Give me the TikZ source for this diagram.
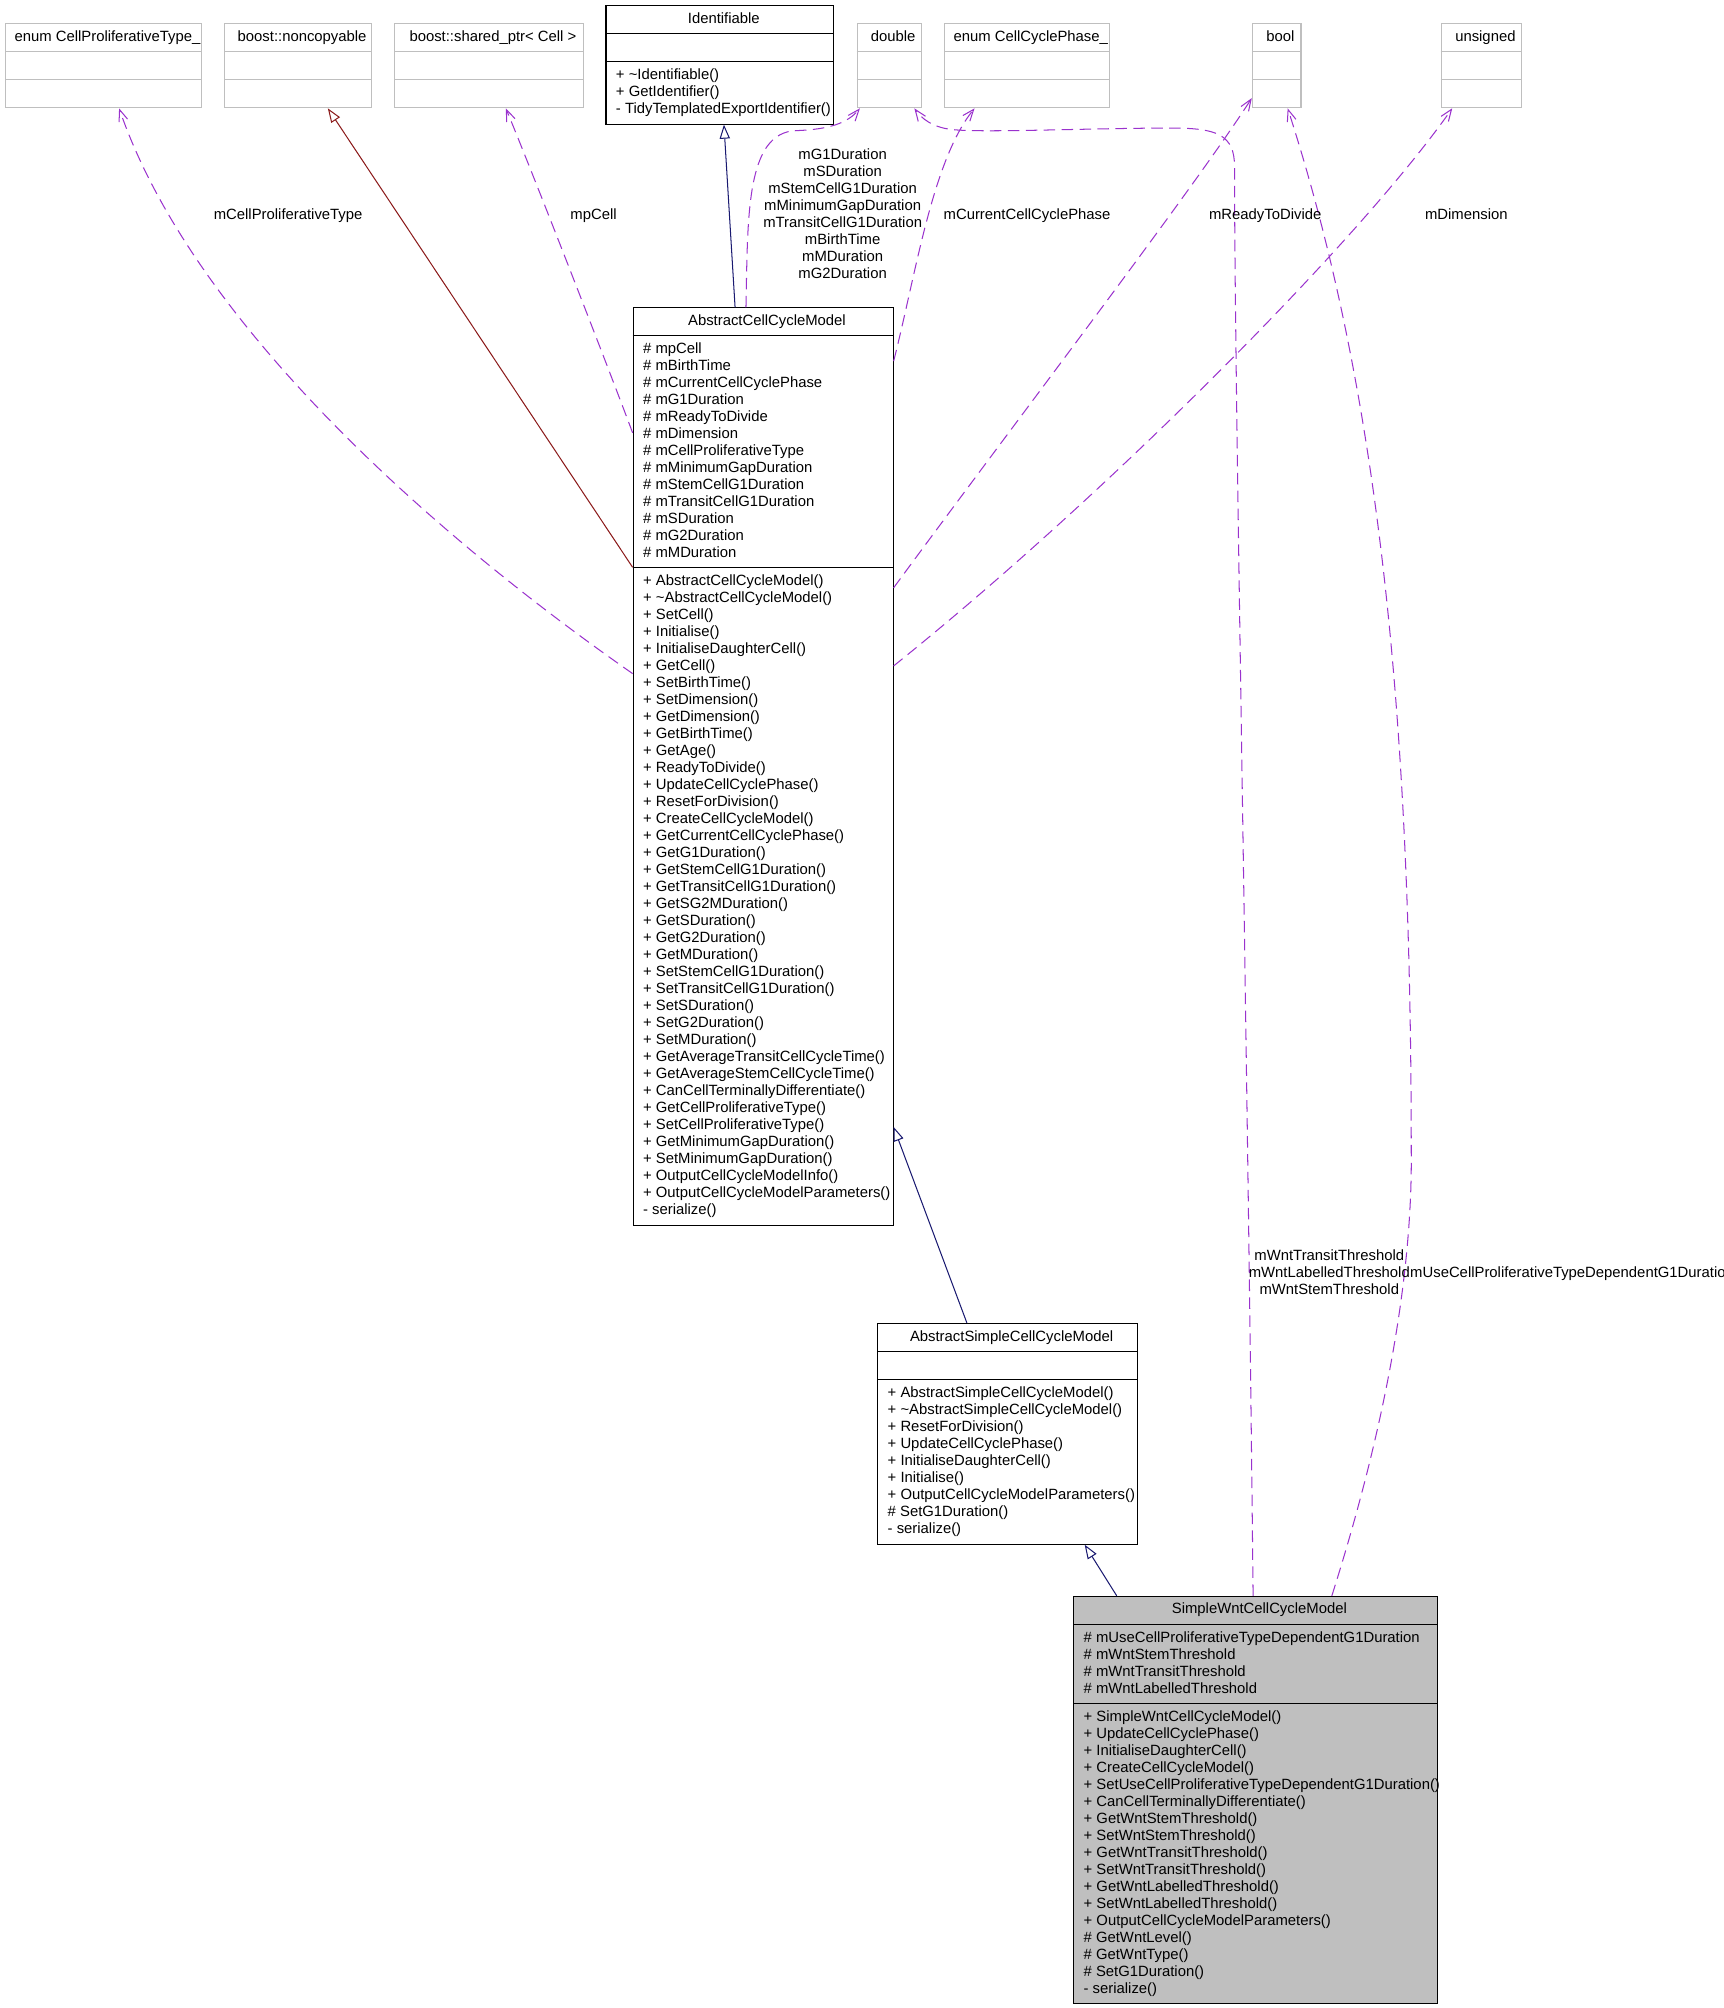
\documentclass[tikz,border=0pt]{standalone}
\usepackage{fontspec}
\setmainfont{Liberation Sans}
\usetikzlibrary{arrows.meta,calc}

\definecolor{orchid}{HTML}{9A32CD}
\definecolor{navyline}{HTML}{191970}
\definecolor{firebrick}{HTML}{8B1A1A}
\definecolor{grey75}{HTML}{BFBFBF}
\newcommand{\umlfont}{\fontsize{11.6}{13.27}\selectfont}

\tikzset{
  box/.style={draw=black, line width=0.8pt, inner sep=0pt, anchor=north west},
  extbox/.style={box, draw=grey75, minimum height=65.6pt},
  ttl/.style={anchor=base, inner sep=0pt},
  rows/.style={anchor=north west, inner sep=0pt, align=left},
  lbl/.style={anchor=base, inner sep=0pt},
  lbls/.style={anchor=north, inner sep=0pt, align=center},
  uses/.style={orchid, line width=0.8pt, dash pattern=on 9pt off 5pt,
    -{Straight Barb[length=9pt,width=7pt]}},
  isa/.style={navyline, line width=0.8pt, -{Triangle[length=11pt,width=8pt,fill=white]}},
  priv/.style={isa, firebrick},
}

\begin{document}
\begin{tikzpicture}[x=1pt, y=-1pt, font=\umlfont]
	\useasboundingbox (0,0) rectangle (1346,1568);
	\clip (0,0) rectangle (1346,1568);
	
	% external types
	\node[extbox, minimum width=153pt] (ecpt) at (4,18.2) {};
	\node[extbox, minimum width=115pt] (noncp) at (175,18.2) {};
	\node[extbox, minimum width=147pt] (sptr) at (308,18.2) {};
	\node[extbox, minimum width=50pt] (dbl) at (669,18.2) {};
	\node[extbox, minimum width=129pt] (eccp) at (737,18.2) {};
	\node[extbox, minimum width=38pt] (bool) at (977.5,18.2) {};
	\node[extbox, minimum width=63pt] (uns) at (1125,18.2) {};
	\foreach \nm/\txt in {ecpt/enum CellProliferativeType\_, noncp/boost::noncopyable,
		sptr/boost::shared\_ptr< Cell >, dbl/double, eccp/enum CellCyclePhase\_,
		bool/bool, uns/unsigned} {
		\node[ttl] (\nm-t) at ($(\nm.north)+(3,14.4)$) {\txt};
		\draw[grey75, line width=0.8pt] ($(\nm.north west)+(0,21.8)$) -- ($(\nm.north east)+(0,21.8)$)
			($(\nm.north west)+(0,43.8)$) -- ($(\nm.north east)+(0,43.8)$);
	}
	
	% Identifiable
	\node[box, minimum width=178pt, minimum height=92.6pt] (ident) at (472.8,3.9) {};
	\node[ttl] (ident-t) at ($(ident.north)+(3,14.2)$) {Identifiable};
	\draw[line width=0.8pt] ($(ident.north west)+(0,22)$) -- ($(ident.north east)+(0,22)$)
		($(ident.north west)+(0,44)$) -- ($(ident.north east)+(0,44)$);
	\node[rows] (ident-m) at ($(ident.north west)+(8,48.6)$)
		{\strut+ \textasciitilde Identifiable()\\+ GetIdentifier()\\- TidyTemplatedExportIdentifier()};
	
	% AbstractCellCycleModel
	\node[box, minimum width=203pt, minimum height=716.3pt] (accm) at (494,240) {};
	\node[ttl] (accm-t) at ($(accm.north)+(3,14.2)$) {AbstractCellCycleModel};
	\draw[line width=0.8pt] ($(accm.north west)+(0,21.8)$) -- ($(accm.north east)+(0,21.8)$)
		($(accm.north west)+(0,203)$) -- ($(accm.north east)+(0,203)$);
	\node[rows] (accm-a) at ($(accm.north west)+(8,26.4)$)
		{\strut\# mpCell\\\# mBirthTime\\\# mCurrentCellCyclePhase\\\# mG1Duration\\
		\# mReadyToDivide\\\# mDimension\\\# mCellProliferativeType\\\# mMinimumGapDuration\\
		\# mStemCellG1Duration\\\# mTransitCellG1Duration\\\# mSDuration\\\# mG2Duration\\
		\# mMDuration};
	\node[rows] (accm-m) at ($(accm.north west)+(8,207.6)$)
		{\strut+ AbstractCellCycleModel()\\
		+ \textasciitilde AbstractCellCycleModel()\\
		+ SetCell()\\
		+ Initialise()\\
		+ InitialiseDaughterCell()\\
		+ GetCell()\\
		+ SetBirthTime()\\
		+ SetDimension()\\
		+ GetDimension()\\
		+ GetBirthTime()\\
		+ GetAge()\\
		+ ReadyToDivide()\\
		+ UpdateCellCyclePhase()\\
		+ ResetForDivision()\\
		+ CreateCellCycleModel()\\
		+ GetCurrentCellCyclePhase()\\
		+ GetG1Duration()\\
		+ GetStemCellG1Duration()\\
		+ GetTransitCellG1Duration()\\
		+ GetSG2MDuration()\\
		+ GetSDuration()\\
		+ GetG2Duration()\\
		+ GetMDuration()\\
		+ SetStemCellG1Duration()\\
		+ SetTransitCellG1Duration()\\
		+ SetSDuration()\\
		+ SetG2Duration()\\
		+ SetMDuration()\\
		+ GetAverageTransitCellCycleTime()\\
		+ GetAverageStemCellCycleTime()\\
		+ CanCellTerminallyDifferentiate()\\
		+ GetCellProliferativeType()\\
		+ SetCellProliferativeType()\\
		+ GetMinimumGapDuration()\\
		+ SetMinimumGapDuration()\\
		+ OutputCellCycleModelInfo()\\
		+ OutputCellCycleModelParameters()\\
		- serialize()};
	
	% AbstractSimpleCellCycleModel
	\node[box, minimum width=203pt, minimum height=172.4pt] (asccm) at (685,1033) {};
	\node[ttl] (asccm-t) at ($(asccm.north)+(3,14.2)$) {AbstractSimpleCellCycleModel};
	\draw[line width=0.8pt] ($(asccm.north west)+(0,22)$) -- ($(asccm.north east)+(0,22)$)
		($(asccm.north west)+(0,44)$) -- ($(asccm.north east)+(0,44)$);
	\node[rows] (asccm-m) at ($(asccm.north west)+(8,48.6)$)
		{\strut+ AbstractSimpleCellCycleModel()\\
		+ \textasciitilde AbstractSimpleCellCycleModel()\\
		+ ResetForDivision()\\
		+ UpdateCellCyclePhase()\\
		+ InitialiseDaughterCell()\\
		+ Initialise()\\
		+ OutputCellCycleModelParameters()\\
		\# SetG1Duration()\\
		- serialize()};
	
	% SimpleWntCellCycleModel
	\node[box, fill=grey75, minimum width=284pt, minimum height=318pt] (swccm) at (838,1246.1) {};
	\node[ttl] (swccm-t) at ($(swccm.north)+(3,14.2)$) {SimpleWntCellCycleModel};
	\draw[line width=0.8pt] ($(swccm.north west)+(0,22.1)$) -- ($(swccm.north east)+(0,22.1)$)
		($(swccm.north west)+(0,83.8)$) -- ($(swccm.north east)+(0,83.8)$);
	\node[rows] (swccm-a) at ($(swccm.north west)+(8,26.7)$)
		{\strut\# mUseCellProliferativeTypeDependentG1Duration\\\# mWntStemThreshold\\
		\# mWntTransitThreshold\\\# mWntLabelledThreshold};
	\node[rows] (swccm-m) at ($(swccm.north west)+(8,88.4)$)
		{\strut+ SimpleWntCellCycleModel()\\
		+ UpdateCellCyclePhase()\\
		+ InitialiseDaughterCell()\\
		+ CreateCellCycleModel()\\
		+ SetUseCellProliferativeTypeDependentG1Duration()\\
		+ CanCellTerminallyDifferentiate()\\
		+ GetWntStemThreshold()\\
		+ SetWntStemThreshold()\\
		+ GetWntTransitThreshold()\\
		+ SetWntTransitThreshold()\\
		+ GetWntLabelledThreshold()\\
		+ SetWntLabelledThreshold()\\
		+ OutputCellCycleModelParameters()\\
		\# GetWntLevel()\\
		\# GetWntType()\\
		\# SetG1Duration()\\
		- serialize()};
	
	% inheritance
	\draw[isa] ($(accm.north west)+(80,0)$) -- ($(ident.south west)+(92.5,0)$);
	\draw[priv] ($(accm.north west)+(0,203)$) -- ($(noncp.south west)+(81,0)$);
	\draw[isa] ($(asccm.north west)+(70,0)$) -- ($(accm.north east)+(0,640)$);
	\draw[isa] ($(swccm.north west)+(34,0)$) -- ($(asccm.south west)+(162,0)$);
	
	% members
	\draw[uses] ($(accm.north west)+(0,286)$) .. controls (335,415) and (150,250) .. ($(ecpt.south west)+(89,0)$);
	\draw[uses] ($(accm.north west)+(0,98)$) .. controls (478,295) and (418,140) .. ($(sptr.south west)+(87,0)$);
	\draw[uses] ($(accm.north west)+(88.5,0)$) .. controls (584,170) and (582,103) .. (622,102)
		.. controls (648,101) and (662,96) .. ($(dbl.south west)+(2.5,0)$);
	\draw[uses] ($(accm.north east)+(0,42)$) .. controls (715,215) and (728,125) .. ($(eccp.south west)+(24,0)$);
	\draw[uses] ($(accm.north east)+(0,219)$) .. controls (800,320) and (930,150) .. ($(bool.south west)+(0,-8)$);
	\draw[uses] ($(accm.north east)+(0,280)$) .. controls (860,390) and (1060,190) .. ($(uns.south west)+(9,0)$);
	\draw[uses] ($(swccm.north west)+(140.5,0)$) .. controls (974,800) and (964,300) .. (964,130)
		.. controls (964,105) and (950,100) .. (915,100)
		.. controls (850,100) and (765,104) .. (742,101)
		.. controls (728,99) and (720,93) .. ($(dbl.south west)+(45,0)$);
	\draw[uses] ($(swccm.north west)+(202,0)$) .. controls (1080,1120) and (1103,1000) .. (1102,900)
		.. controls (1102,550) and (1075,300) .. ($(bool.south west)+(28,0)$);
	
	% labels
	\node[lbl] (l-cpt) at (225,171.2) {mCellProliferativeType};
	\node[lbl] (l-cell) at (463.5,171.2) {mpCell};
	\node[lbls] (l-dbl) at (658,115.4) {\strut mG1Duration\\mSDuration\\mStemCellG1Duration\\
		mMinimumGapDuration\\mTransitCellG1Duration\\mBirthTime\\mMDuration\\mG2Duration};
	\node[lbl] (l-phase) at (802,171.2) {mCurrentCellCyclePhase};
	\node[lbl] (l-ready) at (988,171.2) {mReadyToDivide};
	\node[lbl] (l-dim) at (1145,171.2) {mDimension};
	\node[lbls] (l-wnt) at (1038,974.9) {\strut mWntTransitThreshold\\mWntLabelledThreshold\\mWntStemThreshold};
	\node[lbl, anchor=base west] (l-use) at (1101,997.6) {mUseCellProliferativeTypeDependentG1Duration};
\end{tikzpicture}
\end{document}
